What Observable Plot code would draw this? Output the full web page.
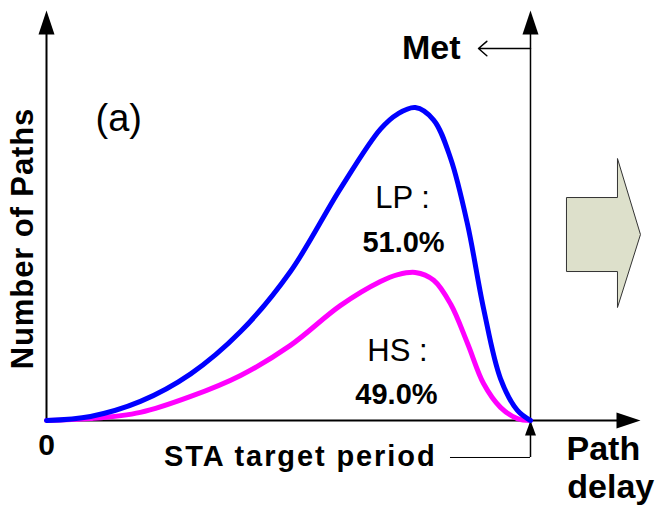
<!DOCTYPE html>
<html>
<head>
<meta charset="utf-8">
<script src="https://cdn.jsdelivr.net/npm/d3@7"></script>
<script src="https://cdn.jsdelivr.net/npm/@observablehq/plot@0.6"></script>
<style>
  html, body { margin: 0; padding: 0; background: #fff; }
  #chart svg { display: block; }
</style>
</head>
<body>
<div id="chart"></div>
<script>
// ---- Data (path delay as % of STA target period, path count relative to LP peak = 100)
const delayPct = [0, 9.1, 19.4, 29.8, 40.1, 50.4, 60.7, 69.0, 72.6, 76.2, 80.0, 83.5, 87.0, 90.3, 93.8, 97.3, 100];
const lpPaths  = [0, 1.3, 6.1, 14.9, 28.4, 47.6, 74.0, 93.1, 98.0, 100, 96.0, 83.7, 62.6, 35.8, 13.4, 3.2, 0];
const hsPaths  = [0, 0.6, 2.6, 7.7, 14.4, 24.0, 36.7, 44.4, 46.6, 47.3, 44.8, 37.2, 24.6, 11.8, 4.2, 0.6, 0];

const seriesNames = ["HS", "LP"];
const seriesColors = ["#ff00ff", "#0000ff"];

// axis extents (data units)
const xAxisMax = 122.73;
const yAxisMax = 131;
const staTarget = 100;

// annotation labels and anchors (data units)
const labelTexts   = ["LP :", "51.0%", "HS :", "49.0%"];
const labelX       = [73.55, 73.76, 72.52, 72.31];
const labelY       = [68.05, 53.99, 19.17, 5.43];
const labelWeights = ["normal", "bold", "normal", "bold"];

const metLabel = "Met";
const panelLabel = "(a)";
const yTitle = "Number of Paths";
const xTitle = ["Path", "delay"];
const zeroLabel = "0";
const staLabel = "STA target period";

// ---- build tables
const lpData = delayPct.map((d, i) => ({delay: d, paths: lpPaths[i], series: "LP"}));
const hsData = delayPct.map((d, i) => ({delay: d, paths: hsPaths[i], series: "HS"}));
const labels = labelTexts.map((t, i) => ({t, x: labelX[i], y: labelY[i], w: labelWeights[i]}));

// custom symbols
const arrowHead = (w, L) => ({
  draw(ctx) { ctx.moveTo(0, 0); ctx.lineTo(w / 2, L); ctx.lineTo(-w / 2, L); ctx.closePath(); }
});
const bigHead = arrowHead(16, 24);
const smallHead = arrowHead(11, 15);
const blockArrow = {
  draw(ctx) {
    ctx.moveTo(-37, -37); ctx.lineTo(14, -37); ctx.lineTo(14, -76); ctx.lineTo(37, 0);
    ctx.lineTo(14, 73); ctx.lineTo(14, 37); ctx.lineTo(-37, 37); ctx.closePath();
  }
};

const FONT = "'Liberation Sans', Arial, Helvetica, sans-serif";

const chart = Plot.plot({
  width: 661,
  height: 509,
  marginLeft: 46,
  marginRight: 21,
  marginTop: 10,
  marginBottom: 89,
  x: {domain: [0, xAxisMax], axis: null},
  y: {domain: [0, yAxisMax], axis: null},
  style: {background: "white", overflow: "visible", fontFamily: FONT},
  marks: [
    // axes
    Plot.ruleX([0], {y1: 0, y2: yAxisMax - 2, stroke: "black", strokeWidth: 2}),
    Plot.ruleY([0], {x1: 0, x2: xAxisMax - 1, stroke: "black", strokeWidth: 2}),
    // STA target period vertical line + leader
    Plot.ruleX([staTarget], {y1: -11.82, y2: yAxisMax - 2, stroke: "black", strokeWidth: 1.5}),
    Plot.ruleY([-11.82], {x1: 83.47, x2: staTarget, stroke: "black", strokeWidth: 1}),
    // Met arrow
    Plot.arrow([{x1: staTarget, x2: 89.26, y: 118.85}], {
      x1: "x1", x2: "x2", y1: "y", y2: "y", stroke: "black", strokeWidth: 1.5,
      headLength: 11, headAngle: 82, bend: 0
    }),
    // arrowheads
    Plot.dot([{x: 0, y: yAxisMax}], {x: "x", y: "y", symbol: bigHead, fill: "black", stroke: "none"}),
    Plot.dot([{x: staTarget, y: yAxisMax}], {x: "x", y: "y", symbol: bigHead, fill: "black", stroke: "none"}),
    Plot.dot([{x: xAxisMax, y: 0}], {x: "x", y: "y", symbol: bigHead, rotate: 90, fill: "black", stroke: "none"}),
    Plot.dot([{x: staTarget, y: 0}], {x: "x", y: "y", symbol: smallHead, fill: "black", stroke: "none"}),
    // block arrow
    Plot.dot([{x: 115.08, y: 59.42}], {x: "x", y: "y", symbol: blockArrow, fill: "#dde0cb", stroke: "#333", strokeWidth: 1}),
    // curves
    Plot.line(hsData, {x: "delay", y: "paths", stroke: seriesColors[0], strokeWidth: 5, curve: "catmull-rom", strokeLinecap: "round", strokeLinejoin: "round"}),
    Plot.line(lpData, {x: "delay", y: "paths", stroke: seriesColors[1], strokeWidth: 5, curve: "catmull-rom", strokeLinecap: "round", strokeLinejoin: "round"}),
    // labels
    Plot.text(labels.filter(d => d.w === "normal"), {x: "x", y: "y", text: "t", fontSize: 31, fontWeight: "normal", textAnchor: "middle", lineAnchor: "bottom", fill: "black", fontFamily: FONT}),
    Plot.text(labels.filter(d => d.w === "bold"), {x: "x", y: "y", text: "t", fontSize: 29, fontWeight: "bold", textAnchor: "middle", lineAnchor: "bottom", fill: "black", fontFamily: FONT}),
    Plot.text([metLabel], {x: 85.54, y: 115.65, text: d => d, fontSize: 34, fontWeight: "bold", textAnchor: "end", lineAnchor: "bottom", fill: "black", fontFamily: FONT}),
    Plot.text([panelLabel], {x: 10.12, y: 92.65, text: d => d, fontSize: 38, fontWeight: "normal", textAnchor: "start", lineAnchor: "bottom", fill: "black", fontFamily: FONT}),
    Plot.text([yTitle], {x: -2.89, y: 58.15, text: d => d, fontSize: 31, fontWeight: "bold", rotate: -90, textAnchor: "middle", lineAnchor: "bottom", fill: "black", fontFamily: FONT}),
    Plot.text([zeroLabel], {x: 0, y: -11.18, text: d => d, fontSize: 30, fontWeight: "bold", textAnchor: "middle", lineAnchor: "bottom", fill: "black", fontFamily: FONT}),
    Plot.text([staLabel], {x: 80.58, y: -14.38, text: d => d, fontSize: 29, fontWeight: "bold", textAnchor: "end", lineAnchor: "bottom", fill: "black", fontFamily: FONT}),
    Plot.text([xTitle[0]], {x: 107.44, y: -12.78, text: d => d, fontSize: 34, fontWeight: "bold", textAnchor: "start", lineAnchor: "bottom", fill: "black", fontFamily: FONT}),
    Plot.text([xTitle[1]], {x: 107.6, y: -24.92, text: d => d, fontSize: 34, fontWeight: "bold", textAnchor: "start", lineAnchor: "bottom", fill: "black", fontFamily: FONT})
  ]
});

// letter spacing tweaks to mimic the wide original font
d3.select(chart).selectAll("text").each(function () {
  const t = this.textContent;
  if (t === staLabel) this.setAttribute("letter-spacing", "1.9");
  if (t === yTitle) this.setAttribute("letter-spacing", "0.9");
});

document.getElementById("chart").appendChild(chart);
</script>
</body>
</html>
